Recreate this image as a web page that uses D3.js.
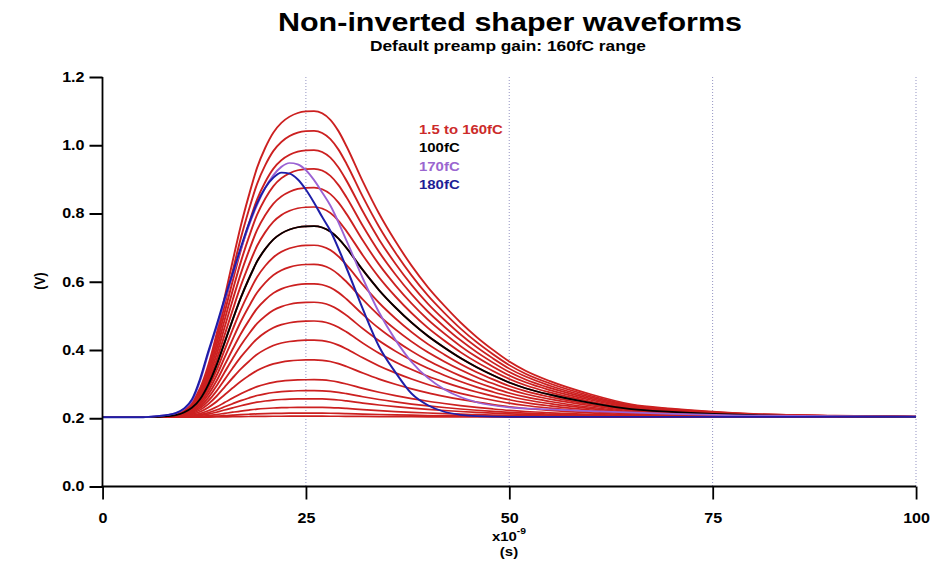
<!DOCTYPE html>
<html>
<head>
<meta charset="utf-8">
<script src="https://cdn.jsdelivr.net/npm/d3@7"></script>
<style>
  html, body { margin: 0; padding: 0; background: #fff; }
  svg { display: block; font-family: "Liberation Sans", Arial, sans-serif; }
</style>
</head>
<body>
<svg id="chart" width="932" height="566"></svg>
<script>
// ---------------- DATA ----------------
const titleText = "Non-inverted shaper waveforms";
const subtitleText = "Default preamp gain: 160fC range";
const xTicks = [0, 25, 50, 75, 100];
const yTicks = [0.0, 0.2, 0.4, 0.6, 0.8, 1.0, 1.2];
const legendLabels = ["1.5 to 160fC", "100fC", "170fC", "180fC"];

// sample times (ns) of the common (linear-region) pulse
const timeNs = [0, 5, 6, 7, 8, 9, 10, 11, 12, 13, 14, 15, 16, 17, 18, 19, 20, 21, 22, 23, 24, 25, 26, 27, 28, 29, 30,
                32, 34, 36, 38, 40, 42, 44, 46, 48, 50, 52, 55, 60, 65, 70, 75, 80, 90, 100];
// normalised pulse (fraction of each curve's peak above baseline)
const pulseShape = [0, 0, 0.001, 0.002, 0.005, 0.011, 0.025, 0.05, 0.095, 0.17, 0.27, 0.39, 0.51, 0.625, 0.725, 0.815,
                    0.88, 0.93, 0.962, 0.982, 0.994, 0.999, 1.0, 0.993, 0.972, 0.935, 0.885,
                    0.77, 0.665, 0.575, 0.495, 0.425, 0.365, 0.31, 0.262, 0.22, 0.182, 0.152, 0.118, 0.075,
                    0.042, 0.028, 0.018, 0.011, 0.005, 0.002];
const baselineV = 0.203;

// red family 1.5 to 160 fC : peak voltages read at the peak column
const redChargesFc = [1.5, 3, 5, 10, 15, 20, 30, 40, 50, 60, 70, 80, 90, 100, 110, 120, 130, 140, 150, 160];
const redPeakV = [0.206, 0.215, 0.232, 0.257, 0.281, 0.313, 0.371, 0.429, 0.485, 0.540, 0.594, 0.651, 0.707,
                  0.763, 0.819, 0.876, 0.931, 0.986, 1.042, 1.100];
// black 100 fC
const blackPeakV = 0.763;

// purple 170 fC
const purpleTimeNs = [0, 5, 6, 7, 8, 9, 10, 11, 12, 13, 14, 15, 16, 17, 18, 19, 20, 21, 22, 23, 24, 25, 26, 27, 28,
                      30, 32, 34, 36, 38, 40, 42, 44, 46, 50, 55, 60, 70, 80, 100];
const purpleV = [0.203, 0.203, 0.205, 0.207, 0.210, 0.215, 0.227, 0.252, 0.31, 0.39, 0.465, 0.545, 0.62, 0.695,
                 0.765, 0.825, 0.875, 0.912, 0.937, 0.948, 0.944, 0.927, 0.898, 0.862, 0.824,
                 0.72, 0.61, 0.51, 0.43, 0.365, 0.318, 0.285, 0.262, 0.247, 0.232, 0.226, 0.221, 0.213, 0.208, 0.205];

// blue 180 fC
const blueTimeNs = [0, 5, 6, 7, 8, 9, 10, 11, 12, 13, 14, 15, 16, 17, 18, 19, 20, 21, 22, 23, 24, 25, 26, 27, 28,
                    30, 32, 34, 36, 38, 40, 42, 44, 46, 50, 60, 80, 100];
const blueV = [0.203, 0.203, 0.205, 0.207, 0.210, 0.215, 0.228, 0.255, 0.315, 0.395, 0.47, 0.55, 0.625, 0.70,
               0.77, 0.83, 0.875, 0.905, 0.92, 0.917, 0.90, 0.87, 0.832, 0.79, 0.75,
               0.64, 0.52, 0.41, 0.335, 0.272, 0.238, 0.219, 0.21, 0.206, 0.204, 0.204, 0.204, 0.205];

// ---------------- DRAWING ----------------
const SX = 1.15;               // horizontal stretch of the original rendering
const W = 932, H = 566;
const colors = { red: "#cc2020", black: "#000000", purple: "#9a62d4", blue: "#1e1ea8", grid: "#8c8cbe" };
const FONT = '"Liberation Sans", Arial, sans-serif';

const svg = d3.select("#chart");
svg.append("rect").attr("width", W).attr("height", H).attr("fill", "#fff");
const root = svg.append("g").attr("transform", `scale(${SX},1)`);

const x = d3.scaleLinear().domain([0, 100]).range([102.5 / SX, 916 / SX]);
const y = d3.scaleLinear().domain([0, 1.2]).range([486.5, 77]);

// vertical dotted grid
root.append("g").selectAll("line").data(xTicks).join("line")
  .attr("x1", d => x(d)).attr("x2", d => x(d))
  .attr("y1", y(1.2)).attr("y2", y(0))
  .attr("stroke", colors.grid).attr("stroke-width", 1 / SX)
  .attr("stroke-dasharray", "1,2");

// series
const line = d3.line().x(d => x(d[0])).y(d => y(d[1])).curve(d3.curveMonotoneX);
const scaled = (peak) => timeNs.map((t, i) => [t, baselineV + (peak - baselineV) * pulseShape[i]]);

const redSeries = redPeakV.map((p, k) => ({ q: redChargesFc[k], pts: scaled(p) }));
root.append("g").selectAll("path").data(redSeries).join("path")
  .attr("d", d => line(d.pts)).attr("fill", "none")
  .attr("stroke", colors.red).attr("stroke-width", 1.7);

root.append("path").attr("d", line(scaled(blackPeakV)))
  .attr("fill", "none").attr("stroke", colors.black).attr("stroke-width", 1.7);

root.append("path").attr("d", line(purpleTimeNs.map((t, i) => [t, purpleV[i]])))
  .attr("fill", "none").attr("stroke", colors.purple).attr("stroke-width", 1.7);

root.append("path").attr("d", line(blueTimeNs.map((t, i) => [t, blueV[i]])))
  .attr("fill", "none").attr("stroke", colors.blue).attr("stroke-width", 1.8);

// axes
const yAxis = d3.axisLeft(y).tickValues(yTicks).tickFormat(d3.format(".1f"))
  .tickSize(13 / SX).tickSizeOuter(0).tickPadding(5 / SX);
const gy = root.append("g").attr("transform", `translate(${x(0)},0)`).call(yAxis);
gy.attr("font-family", FONT).attr("font-size", 14).attr("font-weight", "bold");
gy.select(".domain").attr("stroke", "#000").attr("stroke-width", 1.8 / SX)
  .attr("d", `M0,${y(1.2)}V${y(0) + 1}`);
gy.selectAll(".tick line").attr("stroke", "#000").attr("stroke-width", 2);
gy.selectAll(".tick text").attr("fill", "#000");

const xAxis = d3.axisBottom(x).tickValues(xTicks).tickFormat(d3.format("d"))
  .tickSize(13).tickSizeOuter(0).tickPadding(14);
const gx = root.append("g").attr("transform", `translate(0,${y(0)})`).call(xAxis);
gx.attr("font-family", FONT).attr("font-size", 14).attr("font-weight", "bold");
gx.select(".domain").attr("stroke", "#000").attr("stroke-width", 2)
  .attr("d", `M${x(0) - 0.8},0H${x(100)}`);
gx.selectAll(".tick line").attr("stroke", "#000").attr("stroke-width", 1.8 / SX);
gx.selectAll(".tick text").attr("fill", "#000");

// axis labels
const xl = root.append("text").attr("x", 509 / SX).attr("y", 541)
  .attr("text-anchor", "middle").attr("font-family", FONT).attr("font-weight", "bold")
  .attr("font-size", 13).attr("fill", "#000");
xl.append("tspan").text("x10");
xl.append("tspan").attr("dy", -7).attr("font-size", 9).text("-9");
root.append("text").attr("x", 509 / SX).attr("y", 556)
  .attr("text-anchor", "middle").attr("font-family", FONT).attr("font-weight", "bold")
  .attr("font-size", 13).attr("fill", "#000").text("(s)");
root.append("text")
  .attr("transform", `translate(${40 / SX},281) rotate(-90)`)
  .attr("text-anchor", "middle").attr("dy", "0.35em")
  .attr("font-family", FONT).attr("font-weight", "bold").attr("font-size", 13)
  .attr("fill", "#000").text("(V)");

// title & subtitle
root.append("text").attr("x", 510 / SX).attr("y", 31)
  .attr("text-anchor", "middle").attr("font-family", FONT).attr("font-weight", "bold")
  .attr("font-size", 26).attr("fill", "#000")
  .attr("textLength", 464 / SX).attr("lengthAdjust", "spacingAndGlyphs").text(titleText);
root.append("text").attr("x", 508 / SX).attr("y", 51)
  .attr("text-anchor", "middle").attr("font-family", FONT).attr("font-weight", "bold")
  .attr("font-size", 14.5).attr("fill", "#000")
  .attr("textLength", 276 / SX).attr("lengthAdjust", "spacingAndGlyphs").text(subtitleText);

// legend (text only)
const legendColors = ["#cc2a2a", "#000000", "#9a66d0", "#1e1e96"];
const legendY = [134, 152.5, 171, 189.5];
root.append("g").selectAll("text").data(legendLabels).join("text")
  .attr("x", 419 / SX).attr("y", (d, i) => legendY[i])
  .attr("font-family", FONT).attr("font-weight", "bold").attr("font-size", 13)
  .attr("fill", (d, i) => legendColors[i]).text(d => d);
</script>
</body>
</html>
